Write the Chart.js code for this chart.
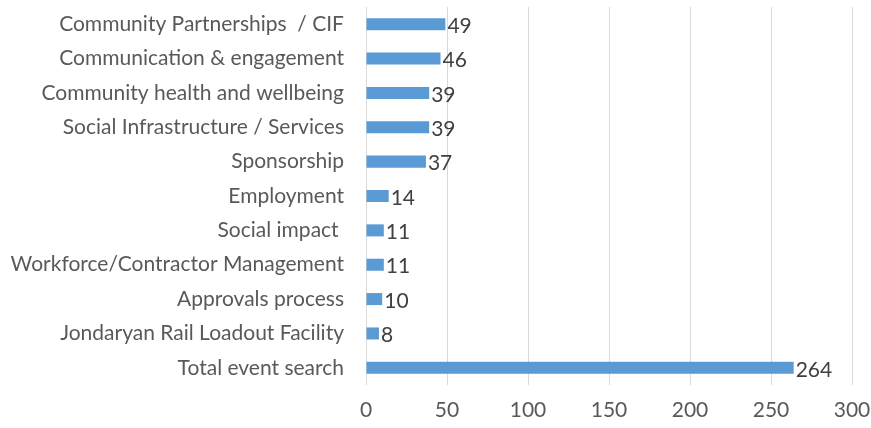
<!DOCTYPE html>
<html>
<head>
<meta charset="utf-8">
<script src="https://cdn.jsdelivr.net/npm/chart.js@4"></script>
<style>
  html, body { margin: 0; padding: 0; background: #fff; }
  #wrap { width: 871px; height: 428px; }
</style>
</head>
<body>
<div id="wrap"><canvas id="chart"></canvas></div>
<script>
const categories = [
  'Community Partnerships  / CIF',
  'Communication & engagement',
  'Community health and wellbeing',
  'Social Infrastructure / Services',
  'Sponsorship',
  'Employment',
  'Social impact ',
  'Workforce/Contractor Management',
  'Approvals process',
  'Jondaryan Rail Loadout Facility',
  'Total event search'
];
const counts = [49, 46, 39, 39, 37, 14, 11, 11, 10, 8, 264];
const xTicks = [0, 50, 100, 150, 200, 250, 300];

const FONT = 'Lato, "Open Sans", sans-serif';
const FONT_SIZE = 21;

// Draw value labels just past the end of each bar
const valueLabels = {
  id: 'valueLabels',
  afterDatasetsDraw(chart) {
    const ctx = chart.ctx;
    const meta = chart.getDatasetMeta(0);
    ctx.save();
    ctx.font = FONT_SIZE + 'px ' + FONT;
    ctx.fillStyle = '#404040';
    ctx.textBaseline = 'middle';
    ctx.textAlign = 'left';
    meta.data.forEach((bar, i) => {
      ctx.fillText(String(counts[i]), bar.x + 2, bar.y + 2);
    });
    ctx.restore();
  }
};

new Chart(document.getElementById('chart'), {
  type: 'bar',
  data: {
    labels: categories,
    datasets: [{
      data: counts,
      backgroundColor: '#5B9BD5',
      barPercentage: 0.5,
      categoryPercentage: 0.7
    }]
  },
  options: {
    indexAxis: 'y',
    responsive: true,
    maintainAspectRatio: false,
    animation: false,
    layout: { padding: { top: 7, right: 19, left: 0, bottom: 0 } },
    plugins: {
      legend: { display: false },
      tooltip: { enabled: false }
    },
    scales: {
      x: {
        min: 0,
        max: 300,
        afterBuildTicks(scale) {
          scale.ticks = xTicks.map(v => ({ value: v }));
        },
        afterFit(scale) {
          scale.height = 43;
          scale.paddingLeft = 0;
          scale.paddingRight = 0;
        },
        grid: { color: '#d9d9d9', lineWidth: 1, drawTicks: false },
        border: { display: false },
        ticks: {
          color: '#595959',
          font: { family: FONT, size: FONT_SIZE },
          padding: 13
        }
      },
      y: {
        afterFit(scale) {
          scale.width = 366;
          scale.paddingTop = 0;
          scale.paddingBottom = 0;
        },
        grid: { display: false, drawTicks: false },
        border: { display: false },
        ticks: {
          color: '#595959',
          font: { family: FONT, size: FONT_SIZE },
          padding: 22
        }
      }
    }
  },
  plugins: [valueLabels]
});
</script>
</body>
</html>
